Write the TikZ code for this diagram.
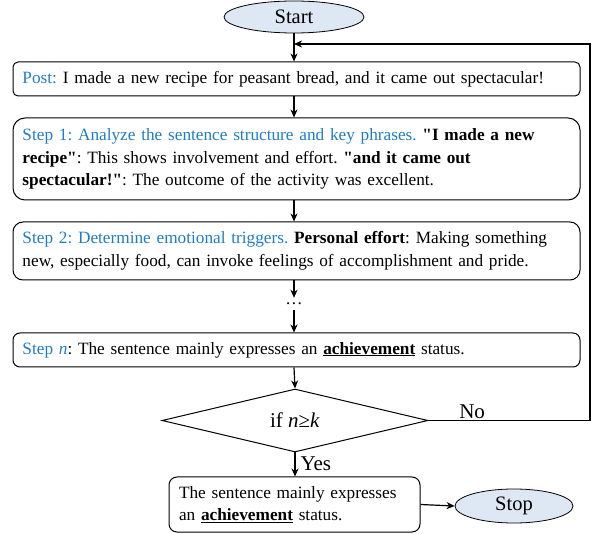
\documentclass[tikz,border=0pt]{standalone}
\usepackage{fontspec}
\setmainfont{Liberation Serif}[Ligatures=TeXOff]
\usetikzlibrary{shapes.geometric,arrows.meta}
\definecolor{stepblue}{RGB}{31,125,200}
\definecolor{ovalfill}{RGB}{221,232,244}
\frenchspacing
\begin{document}
\begin{tikzpicture}[x=1pt,y=-1pt,
  every node/.style={font=\fontsize{17.25}{22.5}\selectfont},
  box/.style={draw, line width=1pt, rounded corners=8pt, minimum width=567pt, text width=548pt, align=left, inner xsep=9.5pt, inner ysep=0pt},
  oval/.style={draw, ellipse, fill=ovalfill, line width=0.8pt, inner sep=0pt, font=\fontsize{20.5}{22}\selectfont},
  arr/.style={-{Stealth[length=8pt,width=7pt,inset=2.5pt]}, line width=1.2pt},
  big/.style={font=\fontsize{21}{22}\selectfont}]
\useasboundingbox (0,0) rectangle (592,534);
\node[oval, minimum width=140pt, minimum height=32pt] (start) at (294,17) {Start};
\node[box, rounded corners=5pt, minimum height=34pt] (post) at (296.5,79)
  {\textcolor{stepblue}{Post:} I made a new recipe for peasant bread, and it came out spectacular!};
\node[box, rounded corners=12pt, minimum height=82pt] (s1) at (296.5,159)
  {\textcolor{stepblue}{Step 1: Analyze the sentence structure and key phrases.} \textbf{"I made a new}\\
   \textbf{recipe"}: This shows involvement and effort. \textbf{"and it came out}\\
   \textbf{spectacular!"}: The outcome of the activity was excellent.};
\node[box, rounded corners=10pt, minimum height=58pt] (s2) at (296.5,251)
  {\textcolor{stepblue}{Step 2: Determine emotional triggers.} \textbf{Personal effort}: Making something\\
   new, especially food, can invoke feelings of accomplishment and pride.};
\node[inner sep=0pt, minimum height=12pt] (dots) at (294,304) {\dots};
\node[box, rounded corners=7pt, minimum height=34pt] (sn) at (296.5,350)
  {\textcolor{stepblue}{Step \textit{n}}: The sentence mainly expresses an \underline{\textbf{achievement}} status.};
\node[draw, diamond, line width=1pt, minimum width=266pt, minimum height=63pt, inner sep=0pt, aspect=4.2, big] (dia) at (295,420.5) {if \textit{n}≥\textit{k}};
\node[draw, line width=1pt, rounded corners=8pt, minimum width=251pt, minimum height=55pt, text width=231pt, align=left, inner xsep=10pt, inner ysep=0pt] (final) at (294.5,504.5)
  {The sentence mainly expresses\\ an \underline{\textbf{achievement}} status.};
\node[oval, minimum width=118pt, minimum height=34pt] (stop) at (514,506) {Stop};
\coordinate (fb) at (294,44);
\coordinate (rc) at (590,44);
\draw[arr] (start.south) -- (start.south |- post.north);
\draw[arr] (start.south |- post.south) -- (start.south |- s1.north);
\draw[arr] (start.south |- s1.south) -- (start.south |- s2.north);
\draw[arr] (start.south |- s2.south) -- (dots.north);
\draw[arr] (dots.south) -- (start.south |- sn.north);
\draw[arr] (start.south |- sn.south) -- (dia.north);
\draw[arr] (dia.south) -- node[right, inner sep=5pt, pos=0.45, big] {Yes} (dia.south |- final.north);
\draw[arr] (final.east) -- (stop.west);
\draw[arr] (dia.east) -- node[above, pos=0.27, inner sep=1pt, big] {No} (dia.east -| rc) -- (rc) -- (fb);
\end{tikzpicture}
\end{document}
